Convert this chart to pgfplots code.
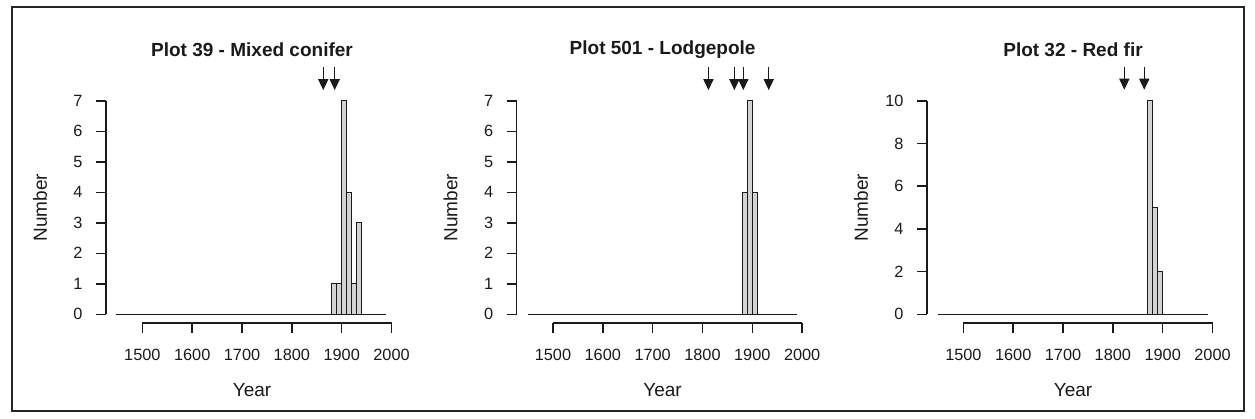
\documentclass[border=0pt]{standalone}
\usepackage{fontspec}
\setmainfont{Liberation Sans}
\usepackage{pgfplots}
\pgfplotsset{compat=1.18}
\usetikzlibrary{arrows.meta}
\definecolor{barfill}{HTML}{D3D3D3}
\definecolor{ink}{HTML}{1A1A1A}
\pgfplotsset{rhist/.style={
  scale only axis, width=292pt, height=230.5pt,
  xmin=1427, xmax=2013,
  axis x line*=bottom, axis y line*=left, axis line style={draw=none},
  xtick={1500,1600,1700,1800,1900,2000},
  tick align=outside, major tick length=10pt,
  tick style={ink, line width=1.5pt},
  /pgf/number format/1000 sep={}, /pgf/number format/assume math mode=true,
  x tick label style={font=\fontsize{16.3}{18}\selectfont, color=ink, anchor=center, yshift=-22pt},
  y tick label style={font=\fontsize{16.3}{18}\selectfont, color=ink, anchor=east, xshift=-10pt},
  xlabel=Year, ylabel=Number,
  xlabel style={font=\fontsize{19}{22}\selectfont, at={(axis description cs:0.5,0)}, anchor=center, yshift=-67pt, color=ink},
  ylabel style={font=\fontsize{19}{22}\selectfont, at={(axis description cs:-0.226,0.5)}, anchor=center, rotate=0, color=ink},
  title style={font=\bfseries\fontsize{19}{22}\selectfont, at={(axis description cs:0.5,1)}, anchor=center, yshift=37pt, color=ink},
  clip=false, enlargelimits=false,
}}
\begin{document}
\begin{tikzpicture}[x=1pt,y=1pt]
\path[use as bounding box] (0,0) rectangle (1255,419);
\draw[line width=2pt, color=black!85] (11.5,411.5) rectangle (1244,8);

% Panel 1
\begin{axis}[rhist, at={(106pt,96.2pt)}, anchor=south west,
  ymin=-0.28, ymax=7.28, ytick={0,1,...,7},
  title={Plot 39 - Mixed conifer}]
\draw[ink, line width=1.5pt] (axis cs:1500,-0.28) -- (axis cs:2000,-0.28);
\draw[ink, line width=1.5pt] (axis cs:1427,0) -- (axis cs:1427,7);
\addplot[ink, line width=1.5pt] coordinates {(1447,0) (1989,0)};
\addplot[ybar interval, fill=barfill, draw=ink, line width=1.3pt] coordinates {
(1880,1) (1890,1) (1900,7) (1910,4) (1920,1) (1930,3) (1940,0)};
\draw[-{Triangle[length=11pt,width=10pt]}, ink, line width=1.5pt] (axis cs:1863,8.11) -- (axis cs:1863,7.35);
\draw[-{Triangle[length=11pt,width=10pt]}, ink, line width=1.5pt] (axis cs:1886,8.11) -- (axis cs:1886,7.35);
\end{axis}

% Panel 2
\begin{axis}[rhist, at={(516.6pt,96.2pt)}, anchor=south west,
  ymin=-0.28, ymax=7.28, ytick={0,1,...,7},
  title={Plot 501 - Lodgepole}]
\draw[ink, line width=1.5pt] (axis cs:1500,-0.28) -- (axis cs:2000,-0.28);
\draw[ink, line width=1.5pt] (axis cs:1427,0) -- (axis cs:1427,7);
\addplot[ink, line width=1.5pt] coordinates {(1450,0) (1990,0)};
\addplot[ybar interval, fill=barfill, draw=ink, line width=1.3pt] coordinates {
(1880,4) (1890,7) (1900,4) (1910,0)};
\draw[-{Triangle[length=11pt,width=10pt]}, ink, line width=1.5pt] (axis cs:1812,8.11) -- (axis cs:1812,7.35);
\draw[-{Triangle[length=11pt,width=10pt]}, ink, line width=1.5pt] (axis cs:1864,8.11) -- (axis cs:1864,7.35);
\draw[-{Triangle[length=11pt,width=10pt]}, ink, line width=1.5pt] (axis cs:1882,8.11) -- (axis cs:1882,7.35);
\draw[-{Triangle[length=11pt,width=10pt]}, ink, line width=1.5pt] (axis cs:1933,8.11) -- (axis cs:1933,7.35);
\end{axis}

% Panel 3
\begin{axis}[rhist, at={(927pt,96.2pt)}, anchor=south west,
  ymin=-0.4, ymax=10.4, ytick={0,2,...,10},
  title={Plot 32 - Red fir}]
\draw[ink, line width=1.5pt] (axis cs:1500,-0.4) -- (axis cs:2000,-0.4);
\draw[ink, line width=1.5pt] (axis cs:1427,0) -- (axis cs:1427,10);
\addplot[ink, line width=1.5pt] coordinates {(1449,0) (1990,0)};
\addplot[ybar interval, fill=barfill, draw=ink, line width=1.3pt] coordinates {
(1870,10) (1880,5) (1890,2) (1900,0)};
\draw[-{Triangle[length=11pt,width=10pt]}, ink, line width=1.5pt] (axis cs:1823,11.6) -- (axis cs:1823,10.52);
\draw[-{Triangle[length=11pt,width=10pt]}, ink, line width=1.5pt] (axis cs:1863,11.6) -- (axis cs:1863,10.52);
\end{axis}
\end{tikzpicture}
\end{document}
